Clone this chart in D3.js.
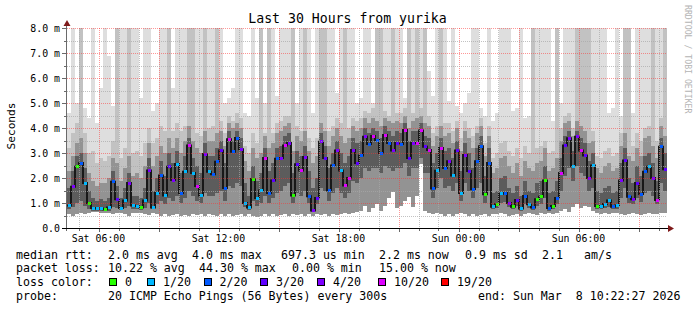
<!DOCTYPE html>
<html><head><meta charset="utf-8">
<script src="https://cdn.jsdelivr.net/npm/d3@7"></script>
<style>html,body{margin:0;padding:0;background:#fff;} svg{display:block;} text{white-space:pre;}</style>
</head><body><svg id="c" width="697" height="310" xml:space="preserve"></svg>
<script>
// ---- data ----
const stepMinutes = 12;
const startTime = Date.UTC(2026, 2, 7, 4, 25, 30);
const endTime = Date.UTC(2026, 2, 8, 10, 25, 30);

const medianRtt = [
 0.90,1.65,2.45,2.60,1.80,1.00,0.80,0.78,0.78,0.75,
 0.82,1.85,1.15,0.80,1.10,1.80,0.90,0.88,0.82,1.10,
 2.30,0.82,1.40,2.10,1.30,2.45,1.92,2.56,1.40,2.25,
 3.30,2.20,1.68,1.30,2.96,2.25,2.15,2.65,3.10,1.60,
 3.55,3.05,3.60,3.15,1.00,0.82,1.96,1.20,1.50,2.80,
 1.40,1.90,2.77,2.80,3.30,3.40,1.30,2.55,2.30,2.84,
 1.27,0.70,1.20,3.45,2.80,1.50,2.50,3.10,2.30,1.70,
 2.00,3.12,2.60,2.90,3.65,3.36,3.68,3.52,3.00,3.72,
 3.40,3.10,3.40,3.36,3.92,2.80,3.40,3.40,3.90,3.25,
 3.12,1.58,2.29,3.20,2.40,2.67,2.10,3.10,1.40,2.92,
 2.28,1.56,2.67,3.27,1.35,2.60,0.85,0.95,1.37,1.40,
 1.00,0.85,1.12,0.78,1.28,0.95,0.82,1.15,1.25,1.90,
 0.80,0.88,1.20,2.20,3.30,3.59,2.48,3.65,3.10,2.90,
 2.00,2.50,0.88,0.85,0.96,1.10,0.85,0.90,1.90,2.70,
 1.25,1.15,1.80,1.36,2.25,2.45,2.00,1.12,3.25,2.35];

const lossLevel = [
 1,4,0,2,1,0,1,1,1,0,
 1,2,3,1,1,4,1,1,0,1,
 4,1,1,2,1,3,4,1,2,1,
 5,1,5,1,4,1,2,2,3,2,
 5,2,2,4,1,1,0,1,1,5,
 2,3,2,4,5,4,0,3,5,4,
 2,4,3,4,3,2,2,4,1,5,
 5,4,3,2,4,2,5,2,2,5,
 2,4,3,2,5,3,4,5,5,3,
 5,2,1,5,2,4,1,3,1,4,
 3,2,2,2,0,2,1,0,1,2,
 4,0,3,1,2,1,2,0,0,0,
 2,0,2,5,3,4,1,4,5,3,
 4,1,0,1,1,1,2,1,4,3,
 2,4,3,2,2,1,4,5,2,3];

const pingLow = [
 0.55,0.50,0.55,0.60,0.55,0.60,0.65,0.65,0.62,0.60,
 0.62,0.55,0.60,0.62,0.55,0.50,0.60,0.62,0.60,0.55,
 0.52,0.60,0.55,0.50,0.55,0.50,0.52,0.55,0.50,0.52,
 0.50,0.55,0.52,0.55,0.50,0.55,0.52,0.50,0.55,0.50,
 0.55,0.50,0.52,0.55,0.50,0.55,0.50,0.45,0.50,0.55,
 0.50,0.55,0.50,0.52,0.55,0.50,0.55,0.52,0.55,0.50,
 0.55,0.50,0.55,0.52,0.55,0.50,0.55,0.52,0.55,0.60,
 0.55,0.60,0.65,0.70,0.90,0.65,0.80,0.95,0.70,0.90,
 1.20,1.45,0.80,0.90,1.10,1.25,0.85,1.30,2.55,0.70,
 0.60,0.55,0.60,0.55,0.50,0.55,0.50,0.55,0.60,0.55,
 0.50,0.55,0.50,0.52,0.55,0.50,0.55,0.55,0.60,0.55,
 0.50,0.52,0.55,0.50,0.55,0.60,0.55,0.52,0.60,0.55,
 0.60,0.55,0.62,0.70,0.75,0.65,0.85,0.95,0.80,0.90,
 0.85,0.70,0.60,0.55,0.60,0.55,0.62,0.60,0.55,0.52,
 0.55,0.60,0.55,0.52,0.55,0.60,0.55,0.58,0.60,0.62];

const pingQ1 = [
 0.75,0.85,1.00,1.10,0.90,0.75,0.70,0.70,0.70,0.68,
 0.70,0.85,0.80,0.72,0.80,0.90,0.75,0.75,0.72,0.80,
 1.00,0.75,0.95,1.10,0.95,1.20,1.10,1.30,1.00,1.20,
 1.50,1.30,1.10,1.00,1.40,1.30,1.30,1.40,1.50,1.10,
 1.70,1.60,1.80,1.70,0.85,0.72,1.10,0.90,1.00,1.30,
 1.00,1.20,1.40,1.50,1.70,1.80,1.00,1.40,1.30,1.50,
 1.00,0.65,0.95,1.60,1.50,1.10,1.40,1.60,1.40,1.20,
 1.40,1.90,1.80,2.00,2.40,2.30,2.40,2.40,2.20,2.50,
 2.40,2.30,2.40,2.40,2.60,2.10,2.40,2.40,2.80,2.20,
 2.20,1.20,1.60,2.00,1.60,1.70,1.50,1.80,1.10,1.80,
 1.50,1.20,1.60,1.80,1.00,1.50,0.75,0.80,1.00,1.05,
 0.85,0.75,0.90,0.70,0.95,0.80,0.72,0.90,0.95,1.20,
 0.70,0.75,0.95,1.50,2.10,2.40,1.90,2.50,2.20,2.10,
 1.50,1.60,0.75,0.75,0.80,0.85,0.75,0.78,1.20,1.60,
 1.00,0.95,1.20,1.05,1.40,1.50,1.30,0.95,1.80,1.50];

const pingQ3 = [
 1.60,2.30,2.90,3.00,2.40,1.50,1.20,1.10,1.15,1.10,
 1.20,2.30,1.70,1.20,1.60,2.20,1.30,1.30,1.20,1.60,
 2.80,1.50,2.00,2.70,2.10,3.00,2.60,3.10,2.20,2.90,
 3.60,2.80,2.50,2.20,3.40,2.90,2.90,3.20,3.50,2.60,
 3.90,3.50,3.90,3.60,1.80,1.30,2.50,1.90,2.20,3.20,
 2.30,2.60,3.20,3.30,3.70,3.80,2.20,3.10,2.90,3.30,
 2.30,1.60,2.00,3.80,3.30,2.40,3.00,3.50,3.00,2.60,
 2.90,3.60,3.40,3.50,4.00,3.80,4.00,3.90,3.60,4.10,
 3.90,3.70,3.90,3.80,4.20,3.50,3.90,3.90,4.20,3.70,
 3.60,2.60,3.00,3.60,3.10,3.20,2.80,3.50,2.30,3.40,
 3.00,2.40,3.20,3.70,2.10,3.20,1.40,1.50,2.00,2.10,
 1.60,1.40,1.70,1.30,1.90,1.50,1.40,1.80,1.90,2.50,
 1.40,1.50,1.90,2.80,3.70,3.90,3.10,3.90,3.60,3.40,
 2.70,3.00,1.50,1.40,1.60,1.70,1.40,1.50,2.60,3.20,
 2.00,1.80,2.50,2.10,2.90,3.00,2.60,1.90,3.60,3.00];

const pingP75 = [
 2.30,2.90,3.40,3.60,3.00,2.20,1.90,1.70,1.80,1.80,
 2.00,2.80,2.60,1.90,2.40,2.90,2.10,2.20,2.00,2.50,
 3.40,2.50,2.90,3.30,3.00,3.60,3.20,3.60,3.00,3.50,
 4.10,3.50,3.20,3.00,3.90,3.50,3.50,3.80,3.90,3.30,
 4.20,4.00,4.20,4.00,2.70,2.30,3.20,2.80,3.00,3.70,
 3.20,3.40,3.80,3.90,4.10,4.20,3.10,3.70,3.50,3.90,
 3.10,2.60,2.90,4.20,3.90,3.30,3.70,4.00,3.70,3.40,
 3.60,4.10,3.90,4.00,4.40,4.20,4.40,4.30,4.10,4.40,
 4.30,4.20,4.30,4.20,4.50,4.00,4.30,4.40,4.50,4.20,
 4.10,3.30,3.70,4.10,3.70,3.80,3.40,4.00,3.10,3.90,
 3.60,3.20,3.80,4.10,2.90,3.70,2.20,2.40,2.80,2.90,
 2.50,2.20,2.60,2.10,2.70,2.40,2.30,2.60,2.70,3.20,
 2.30,2.40,2.80,3.50,4.20,4.30,3.70,4.30,4.10,3.90,
 3.40,3.50,2.40,2.20,2.50,2.60,2.30,2.40,3.30,3.80,
 2.90,2.70,3.20,2.90,3.60,3.70,3.30,2.80,4.10,3.70];

const pingP90 = [
 3.20,3.80,4.20,9.00,3.80,3.00,3.10,2.60,2.80,2.70,
 2.90,3.50,9.00,2.80,3.20,9.00,3.00,3.10,2.90,3.40,
 4.00,3.40,3.60,4.10,3.90,9.00,3.90,4.20,3.90,4.10,
 9.00,9.00,3.80,3.70,9.00,4.00,4.10,9.00,4.30,3.80,
 4.50,4.30,4.60,4.40,3.30,3.00,3.80,3.40,9.00,3.80,
 9.00,3.80,4.20,4.30,4.50,4.50,9.00,4.10,3.90,9.00,
 3.60,3.20,3.60,9.00,9.00,3.90,4.10,4.40,4.20,9.00,
 4.00,4.40,4.30,4.40,4.70,4.60,4.80,9.00,9.00,4.70,
 4.50,9.00,4.60,4.60,4.80,9.00,4.60,9.00,4.80,9.00,
 4.50,3.80,4.10,9.00,4.20,4.20,3.90,4.30,3.60,4.30,
 4.00,3.70,4.10,4.40,3.40,4.10,2.80,3.00,3.40,3.50,
 3.10,2.90,3.20,2.80,3.30,3.00,9.00,3.20,3.30,3.50,
 3.00,3.10,9.00,4.00,4.50,4.60,4.00,9.00,9.00,9.00,
 9.00,3.90,2.90,2.80,3.10,3.20,2.90,3.00,3.80,9.00,
 9.00,3.30,3.80,3.50,4.00,4.10,9.00,3.50,4.40,9.00];

const pingHigh = [
 4.6,9,5.0,9,4.8,4.4,9,4.2,5.6,9,
 6.9,4.9,9,9,9,9,9,9,5.2,9,
 9,4.7,5.0,9,9,9,5.6,9,9,9,
 9,9,9,9,9,9,9,9,9,5.0,
 5.2,5.6,9,9,4.6,4.5,9,5.2,9,5.0,
 9,9,5.3,9,9,9,9,5.0,9,9,
 9,4.6,9,9,9,9,9,5.4,9,9,
 9,9,5.0,5.2,9,9,5.0,9,9,9,
 9,9,9,9,5.2,9,9,9,9,9,
 6.3,5.3,9,9,9,5.1,9,4.9,4.6,5.0,
 5.4,9,9,4.8,4.5,9,4.3,4.6,9,9,
 9,4.7,4.8,9,4.4,4.5,9,9,9,9,
 9,4.3,9,5.0,9,9,9,9,9,9,
 9,9,9,9,9,4.6,4.8,9,4.5,9,
 9,4.6,9,9,9,9,9,9,9,9];

const yMajorTicks = [0, 1, 2, 3, 4, 5, 6, 7, 8];
const yMajorLabels = ["0.0", "1.0 m", "2.0 m", "3.0 m", "4.0 m", "5.0 m", "6.0 m", "7.0 m", "8.0 m"];
const yMinorTicks = [0.5, 1.5, 2.5, 3.5, 4.5, 5.5, 6.5, 7.5];
const lossColors = ["#26ff00", "#00b8ff", "#0059ff", "#5e00ff", "#7e00ff", "#dd00ff", "#ff0000"];
const lossLabels = ["0", "1/20", "2/20", "3/20", "4/20", "10/20", "19/20"];

const titleText = "Last 30 Hours from yurika";
const legendRtt = ["median rtt:", "2.0 ms avg", "4.0 ms max", "697.3 us min", "2.2 ms now", "0.9 ms sd", "2.1", "am/s"];
const legendLoss = ["packet loss:", "10.22 % avg", "44.30 % max", "0.00 % min", "15.00 % now"];
const legendProbe = ["probe:", "20 ICMP Echo Pings (56 Bytes) every 300s", "end: Sun Mar  8 10:22:27 2026"];

// ---- drawing ----
const svg = d3.select("#c");
const MONO = "'DejaVu Sans Mono', monospace";
const stepMs = stepMinutes * 60000;
const times = medianRtt.map((_, i) => new Date(startTime + i * stepMs));
const x = d3.scaleUtc().domain([new Date(startTime), new Date(endTime)]).range([67, 667]);
const y = d3.scaleLinear().domain([0, 8]).range([228, 28]).clamp(true);

svg.append("rect").attr("width", 697).attr("height", 310).attr("fill", "#ffffff");

const plot = svg.append("g");
function band(lowArr, highArr, color) {
  plot.append("g").selectAll("rect").data(times).join("rect")
    .attr("x", d => x(d))
    .attr("width", d => x(new Date(+d + stepMs)) - x(d))
    .attr("y", (d, i) => y(highArr[i]))
    .attr("height", (d, i) => Math.max(0, y(lowArr[i]) - y(highArr[i])))
    .attr("fill", color)
    .attr("shape-rendering", "crispEdges");
}
band(pingLow, pingHigh, "#dedede");
band(pingLow, pingP90, "#c2c2c2");
band(pingLow, pingP75, "#939393");
band(pingQ1, pingQ3, "#5c5c5c");

// median step line
const medPts = times.map((t, i) => [x(t), y(medianRtt[i])]);
medPts.push([x(new Date(endTime)), y(medianRtt[medianRtt.length - 1])]);
plot.append("path")
  .attr("d", d3.line().curve(d3.curveStepAfter)(medPts))
  .attr("fill", "none").attr("stroke", "#181818").attr("stroke-width", 2);

// loss coloured median marks
plot.append("g").selectAll("rect").data(times).join("rect")
  .attr("x", d => x(d) + 0.5)
  .attr("width", d => x(new Date(+d + stepMs)) - x(d) - 1)
  .attr("y", (d, i) => y(medianRtt[i]) - 1.5)
  .attr("height", 3)
  .attr("fill", (d, i) => lossColors[lossLevel[i]])
  .attr("shape-rendering", "crispEdges");

// grid
const grid = svg.append("g").attr("shape-rendering", "crispEdges");
const hourTicks = x.ticks(d3.utcHour.every(1));
const isMajor = d => d.getUTCHours() % 3 === 0;
grid.selectAll("line.vmin").data(hourTicks.filter(d => !isMajor(d))).join("line")
  .attr("x1", d => Math.round(x(d)) + 0.5).attr("x2", d => Math.round(x(d)) + 0.5)
  .attr("y1", y(8)).attr("y2", y(0))
  .attr("stroke", "#a8a8a8").attr("stroke-opacity", 0.7).attr("stroke-dasharray", "1,1");
grid.selectAll("line.vmaj").data(hourTicks.filter(isMajor)).join("line")
  .attr("x1", d => Math.round(x(d)) + 0.5).attr("x2", d => Math.round(x(d)) + 0.5)
  .attr("y1", y(8)).attr("y2", y(0))
  .attr("stroke", "#ff3030").attr("stroke-opacity", 0.5).attr("stroke-dasharray", "1,1");
grid.selectAll("line.hmin").data(yMinorTicks).join("line")
  .attr("x1", 67).attr("x2", 667)
  .attr("y1", d => Math.round(y(d)) + 0.5).attr("y2", d => Math.round(y(d)) + 0.5)
  .attr("stroke", "#a8a8a8").attr("stroke-opacity", 0.7).attr("stroke-dasharray", "1,1");
grid.selectAll("line.hmaj").data(yMajorTicks.slice(1)).join("line")
  .attr("x1", 67).attr("x2", 667)
  .attr("y1", d => Math.round(y(d)) + 0.5).attr("y2", d => Math.round(y(d)) + 0.5)
  .attr("stroke", "#ff3030").attr("stroke-opacity", 0.5).attr("stroke-dasharray", "1,1");

// axes
const ax = svg.append("g").attr("shape-rendering", "crispEdges");
ax.append("line").attr("x1", 66.5).attr("x2", 66.5).attr("y1", y(0) + 3).attr("y2", 23)
  .attr("stroke", "#6a6a6a");
ax.selectAll("line.yt").data(yMajorTicks).join("line")
  .attr("x1", 62).attr("x2", 67)
  .attr("y1", d => Math.round(y(d)) + 0.5).attr("y2", d => Math.round(y(d)) + 0.5)
  .attr("stroke", "#6a6a6a");
ax.selectAll("line.ytm").data(yMinorTicks).join("line")
  .attr("x1", 64).attr("x2", 67)
  .attr("y1", d => Math.round(y(d)) + 0.5).attr("y2", d => Math.round(y(d)) + 0.5)
  .attr("stroke", "#6a6a6a");
ax.append("line").attr("x1", 62).attr("x2", 670).attr("y1", 228.5).attr("y2", 228.5)
  .attr("stroke", "#000");
ax.selectAll("line.xt").data(hourTicks).join("line")
  .attr("x1", d => Math.round(x(d)) + 0.5).attr("x2", d => Math.round(x(d)) + 0.5)
  .attr("y1", 229).attr("y2", d => isMajor(d) ? 232 : 231)
  .attr("stroke", "#6a6a6a");
svg.append("path").attr("d", "M63.5,26L70.5,26L67,20Z").attr("fill", "#7f1a1a");
svg.append("path").attr("d", "M668,225L668,232L674,228.5Z").attr("fill", "#7f1a1a");

// tick labels
svg.append("g").selectAll("text").data(yMajorTicks).join("text")
  .attr("x", 60).attr("y", d => y(d) + 3.5)
  .attr("text-anchor", "end").attr("font-family", MONO).attr("font-size", 9.9)
  .attr("fill", "#000").text((d, i) => yMajorLabels[i]);
const fmt = d3.utcFormat("%a %H:%M");
svg.append("g").selectAll("text").data(x.ticks(d3.utcHour.every(6))).join("text")
  .attr("x", d => x(d)).attr("y", 241.5)
  .attr("text-anchor", "middle").attr("font-family", MONO).attr("font-size", 9.9)
  .attr("fill", "#000").text(d => fmt(d));

// title, y label, watermark
svg.append("text").attr("x", 347.5).attr("y", 22.5).attr("text-anchor", "middle")
  .attr("font-family", MONO).attr("font-size", 13.2).attr("fill", "#000").text(titleText);
svg.append("text").attr("transform", "translate(15,126) rotate(-90)").attr("text-anchor", "middle")
  .attr("font-family", MONO).attr("font-size", 11.2).attr("fill", "#000").text("Seconds");
svg.append("text").attr("transform", "translate(685,5) rotate(90)").attr("text-anchor", "start")
  .attr("font-family", MONO).attr("font-size", 8.2).attr("fill", "#b4b4b4").text("RRDTOOL / TOBI OETIKER");

// legend
const lg = svg.append("g").attr("font-family", MONO).attr("font-size", 11.6).attr("fill", "#000");
const rowY = [258.5, 272.2, 285.9, 299.6];
const rttX = [16, 108, 192, 281, 379, 465, 542, 584];
legendRtt.forEach((t, i) => lg.append("text").attr("x", rttX[i]).attr("y", rowY[0]).text(t));
const lossX = [16, 108, 199, 292, 379];
legendLoss.forEach((t, i) => lg.append("text").attr("x", lossX[i]).attr("y", rowY[1]).text(t));
lg.append("text").attr("x", 16).attr("y", rowY[2]).text("loss color:");
const boxX = [109, 147, 203.5, 260, 317, 378, 441];
lossLabels.forEach((t, i) => {
  lg.append("rect").attr("x", boxX[i] + 0.5).attr("y", rowY[2] - 7.5).attr("width", 7).attr("height", 7)
    .attr("fill", lossColors[i]).attr("stroke", "#000").attr("stroke-width", 1).attr("shape-rendering", "crispEdges");
  lg.append("text").attr("x", boxX[i] + 16).attr("y", rowY[2]).text(t);
});
const probeX = [16, 108, 478];
legendProbe.forEach((t, i) => lg.append("text").attr("x", probeX[i]).attr("y", rowY[3]).text(t));
</script></body></html>
